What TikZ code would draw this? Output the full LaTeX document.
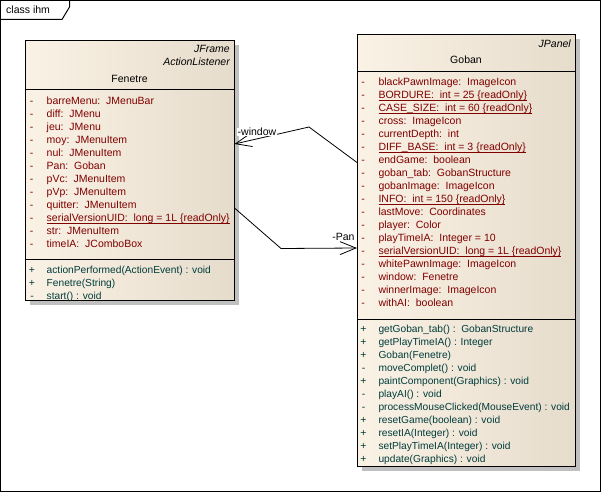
\documentclass[tikz,border=0pt]{standalone}
\usepackage{fontspec}
\setmainfont{Liberation Sans}
\usetikzlibrary{arrows.meta,calc,shadows}

\definecolor{attrred}{RGB}{128,0,0}
\definecolor{opteal}{RGB}{0,60,60}
\definecolor{boxleft}{RGB}{250,242,229}
\definecolor{boxright}{RGB}{230,220,204}
\definecolor{shadowgray}{RGB}{192,192,192}

% static members are underlined just below the baseline
\newcommand\staticattr[1]{\setbox0\hbox{#1}\rlap{\rule[-2.2pt]{\wd0}{0.7pt}}\box0}

\begin{document}
\begin{tikzpicture}[x=1pt,y=-1pt,
  font=\fontsize{10.5}{12}\selectfont,
  classbox/.style={draw=black, line width=1pt, left color=boxleft, right color=boxright,
    inner sep=0pt,
    drop shadow={shadow xshift=4.5pt,shadow yshift=-4.5pt,fill=shadowgray,opacity=1}},
  sepline/.style={draw=black, line width=1pt},
  txt/.style={inner sep=0pt, anchor=base west},
  attr/.style={txt, text=attrred},
  oper/.style={txt, text=opteal, font=\fontsize{10.2}{12}\selectfont},
  vis/.style={inner sep=0pt, anchor=base},
  stereo/.style={inner sep=0pt, anchor=base east, font=\fontsize{10.5}{12}\selectfont\itshape},
  cname/.style={inner sep=0pt, anchor=base},
  assoc/.style={draw=black, line width=0.8pt,
    -{Straight Barb[length=16pt,width=13pt,line width=0.8pt]}},
  rolelabel/.style={inner sep=0.5pt, anchor=base west, fill=white}]

\useasboundingbox (0,0) rectangle (601,492);

% diagram frame with its name tab
\draw[line width=1pt] (0.5,0.5) rectangle (600.5,491.5);
\draw[line width=1pt] (0.5,19.5) -- (62,19.5) -- (69.5,7) -- (69.5,0.5);
\node[txt] (frametitle) at (6,13.5) {class ihm};

% ---------- class Fenetre ----------
\node[classbox, minimum width=209pt, minimum height=260pt] (fenetre) at (129.5,170.5) {};
\draw[sepline] ($(fenetre.north west)+(0,49.5)$) -- ($(fenetre.north east)+(0,49.5)$);
\draw[sepline] ($(fenetre.north west)+(0,219)$) -- ($(fenetre.north east)+(0,219)$);
\node[stereo] (fst1) at (230,52.7) {JFrame};
\node[stereo] (fst2) at (230,65.2) {ActionListener};
\node[cname] (fname) at (129.5,82.5) {Fenetre};

\foreach \t [count=\i from 0] in {
  barreMenu:\ \ JMenuBar, diff:\ \ JMenu, jeu:\ \ JMenu, moy:\ \ JMenuItem,
  nul:\ \ JMenuItem, Pan:\ \ Goban, pVc:\ \ JMenuItem, pVp:\ \ JMenuItem,
  quitter:\ \ JMenuItem, {\staticattr{serialVersionUID:\ \ long = 1L \{readOnly\}}},
  str:\ \ JMenuItem, timeIA:\ \ JComboBox}
{
  \node[vis, text=attrred] (fav\i) at (31.5,{104+13*\i}) {-};
  \node[attr] (fa\i) at (46.5,{104+13*\i}) {\t};
}

\foreach \v/\t [count=\i from 0] in {
  +/{actionPerformed(ActionEvent) : void}, +/{Fenetre(String)}, -/{start() : void}}
{
  \node[vis, text=opteal] (fov\i) at (32,{273+13*\i}) {\v};
  \node[oper] (fo\i) at (46.5,{273+13*\i}) {\t};
}

% ---------- class Goban ----------
\node[classbox, minimum width=217.5pt, minimum height=431pt] (goban) at (466.25,250.5) {};
\draw[sepline] ($(goban.north west)+(0,37)$) -- ($(goban.north east)+(0,37)$);
\draw[sepline] ($(goban.north west)+(0,285)$) -- ($(goban.north east)+(0,285)$);
\node[stereo] (gst1) at (571,47.3) {JPanel};
\node[cname] (gname) at (466,63.5) {Goban};

\foreach \t [count=\i from 0] in {
  blackPawnImage:\ \ ImageIcon,
  {\staticattr{BORDURE:\ \ int = 25 \{readOnly\}}},
  {\staticattr{CASE\_SIZE:\ \ int = 60 \{readOnly\}}},
  cross:\ \ ImageIcon, currentDepth:\ \ int,
  {\staticattr{DIFF\_BASE:\ \ int = 3 \{readOnly\}}},
  endGame:\ \ boolean, goban\_tab:\ \ GobanStructure, gobanImage:\ \ ImageIcon,
  {\staticattr{INFO:\ \ int = 150 \{readOnly\}}},
  lastMove:\ \ Coordinates, player:\ \ Color, playTimeIA:\ \ Integer = 10,
  {\staticattr{serialVersionUID:\ \ long = 1L \{readOnly\}}},
  whitePawnImage:\ \ ImageIcon, window:\ \ Fenetre, winnerImage:\ \ ImageIcon,
  withAI:\ \ boolean}
{
  \node[vis, text=attrred] (gav\i) at (363,{85.5+13*\i}) {-};
  \node[attr] (ga\i) at (378.3,{85.5+13*\i}) {\t};
}

\foreach \v/\t [count=\i from 0] in {
  +/{getGoban\_tab() :\ \ GobanStructure}, +/{getPlayTimeIA() : Integer},
  +/{Goban(Fenetre)}, -/{moveComplet() : void}, +/{paintComponent(Graphics) : void},
  -/{playAI() : void}, -/{processMouseClicked(MouseEvent) : void},
  +/{resetGame(boolean) : void}, +/{resetIA(Integer) : void},
  +/{setPlayTimeIA(Integer) : void}, +/{update(Graphics) : void}}
{
  \node[vis, text=opteal] (gov\i) at (363.5,{332.7+13*\i}) {\v};
  \node[oper] (go\i) at (378.3,{332.7+13*\i}) {\t};
}

% ---------- associations ----------
\coordinate (winStart) at ($(goban.north west)+(0,128)$);
\coordinate (winBend) at (309,127);
\coordinate (winEnd) at ($(fenetre.north east)+(0,104)$);
\draw[assoc] (winStart) -- (winBend) -- (winEnd);
\node[rolelabel] (winlabel) at (237,135.7) {-window};

\coordinate (panStart) at ($(fenetre.north east)+(0,168)$);
\coordinate (panBend) at (281,248.5);
\coordinate (panEnd) at ($(goban.north west)+(0,213.5)$);
\draw[assoc] (panStart) -- (panBend) -- (panEnd);
\node[rolelabel, fill=none] (panlabel) at (331.7,240.7) {-Pan};

\end{tikzpicture}
\end{document}
